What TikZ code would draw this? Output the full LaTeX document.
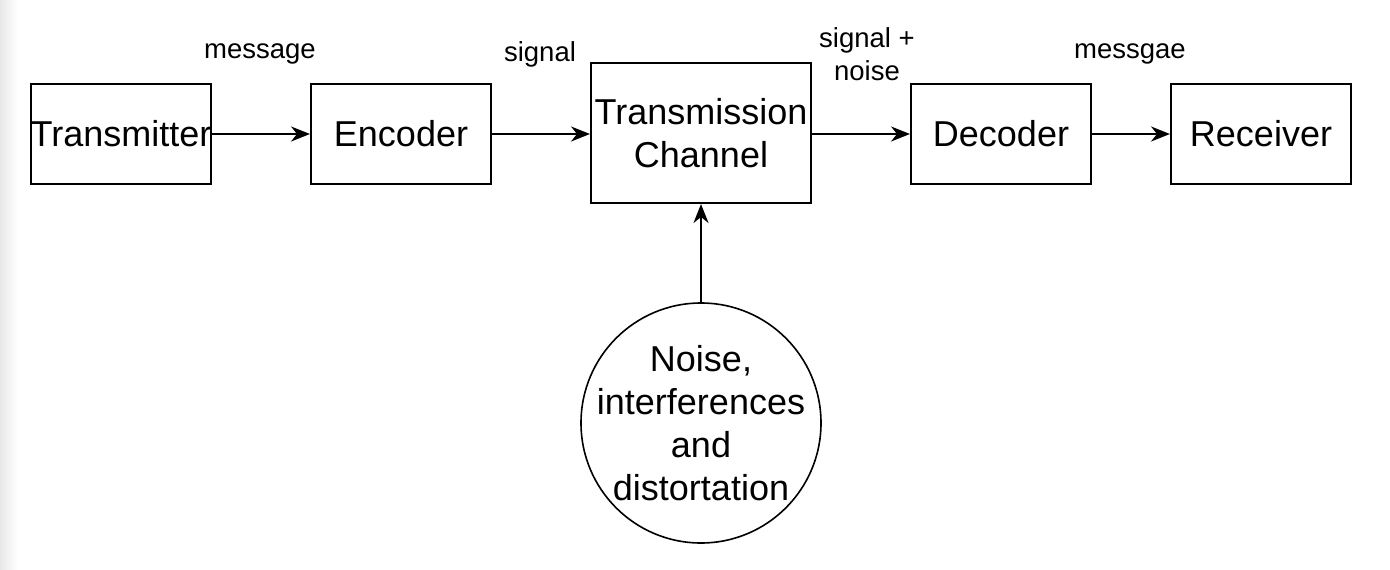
\documentclass[tikz,border=0pt]{standalone}
\usepackage{fontspec}
\setmainfont{Liberation Sans}
\usetikzlibrary{arrows.meta}
\begin{document}
\begin{tikzpicture}[x=1pt,y=-1pt,
  blockbox/.style={draw, line width=2pt, minimum width=180pt, minimum height=100pt,
    inner sep=0pt, font=\fontsize{36}{43}\selectfont, align=center},
  flow/.style={line width=2pt, -{Stealth[length=19pt,width=15pt,inset=6pt]}},
  tag/.style={font=\fontsize{27.5}{33}\selectfont, align=center, inner sep=0pt}]
  % canvas and faint left-edge shadow
  \useasboundingbox (0,0) rectangle (1390,570);
  \fill[white] (0,0) rectangle (1390,570);
  \shade[left color=black!9, right color=white] (0,0) rectangle (18,570);

  % processing chain
  \node[blockbox] (tx)  at (121,134) {Transmitter};
  \node[blockbox] (enc) at (401,134) {Encoder};
  \node[blockbox, minimum width=220pt, minimum height=140pt] (ch) at (701,133) {Transmission\\Channel};
  \node[blockbox] (dec) at (1001,134) {Decoder};
  \node[blockbox] (rx)  at (1261,134) {Receiver};

  % disturbance source
  \node[draw, circle, line width=1.6pt, minimum size=240pt, inner sep=-25pt,
        font=\fontsize{36}{43}\selectfont, align=center] (noise) at (701,423)
        {Noise,\\interferences\\and\\distortation};

  % connectors
  \draw[flow] (tx.east) -- (enc.west);
  \draw[flow] (enc.east) -- (enc.east -| ch.west);
  \draw[flow] (dec.west -| ch.east) -- (dec.west);
  \draw[flow] (dec.east) -- (rx.west);
  \draw[flow] (noise.north) -- (ch.south);

  % signal labels
  \node[tag] (l1) at (260,54) {message};
  \node[tag] (l2) at (540,54) {signal};
  \node[tag] (l3) at (867,54) {signal +\\noise};
  \node[tag] (l4) at (1130,54) {messgae};
\end{tikzpicture}
\end{document}
